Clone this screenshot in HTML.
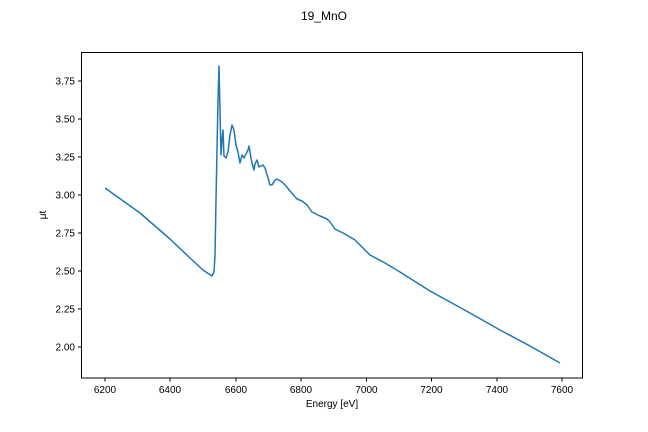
<!DOCTYPE html>
<html><head><meta charset="utf-8"><style>body{margin:0;background:#fff}svg{display:block}</style></head>
<body>
<svg width="648" height="432" xmlns="http://www.w3.org/2000/svg" font-family="Liberation Sans, DejaVu Sans, sans-serif" font-size="10">
<text x="324" y="20" text-anchor="middle" font-size="12">19_MnO</text>
<polyline fill="none" stroke="#1f77b4" stroke-width="1.5" stroke-linejoin="round" points="105,188 140,213 170,239 190,258 203,270 209,274 212,276 214,272 215,255 216,200 217,150 218,100 219,66 220,110 221,155 222,140 223,130 224,156 226,158 228,152 230,135 232,125 234,130 236,145 238,152 240,163 242,155 244,158 246,154 248,150 249,146 251,158 252,163 254,170 255,164 257,160 259,167 261,166 263,165 265,168 268,178 270,185 272,185 275,180 277,179 282,182 286,186 290,191 297,199 302,201 307,205 312,212 320,216 327,219 330,222 335,229 345,234 355,240 370,255 385,263 400,272 430,291 470,313 500,330 530,346 560,363"/>
<rect x="81.5" y="52.5" width="501" height="325.5" fill="none" stroke="#000" stroke-width="1"/>
<g stroke="#000">
<line x1="105" y1="378" x2="105" y2="381.5"/><line x1="170" y1="378" x2="170" y2="381.5"/><line x1="236" y1="378" x2="236" y2="381.5"/><line x1="301" y1="378" x2="301" y2="381.5"/><line x1="366.5" y1="378" x2="366.5" y2="381.5"/><line x1="431.5" y1="378" x2="431.5" y2="381.5"/><line x1="497" y1="378" x2="497" y2="381.5"/><line x1="562" y1="378" x2="562" y2="381.5"/>
<line x1="78" y1="347" x2="81.5" y2="347"/><line x1="78" y1="309" x2="81.5" y2="309"/><line x1="78" y1="271" x2="81.5" y2="271"/><line x1="78" y1="233" x2="81.5" y2="233"/><line x1="78" y1="195" x2="81.5" y2="195"/><line x1="78" y1="157" x2="81.5" y2="157"/><line x1="78" y1="119" x2="81.5" y2="119"/><line x1="78" y1="81" x2="81.5" y2="81"/>
</g>
<g text-anchor="middle">
<text x="105" y="393">6200</text><text x="170" y="393">6400</text><text x="236" y="393">6600</text><text x="301" y="393">6800</text><text x="366.5" y="393">7000</text><text x="431.5" y="393">7200</text><text x="497" y="393">7400</text><text x="562" y="393">7600</text>
</g>
<g text-anchor="end">
<text x="75" y="350.5">2.00</text><text x="75" y="312.5">2.25</text><text x="75" y="274.5">2.50</text><text x="75" y="236.5">2.75</text><text x="75" y="198.5">3.00</text><text x="75" y="160.5">3.25</text><text x="75" y="122.5">3.50</text><text x="75" y="84.5">3.75</text>
</g>
<text x="332" y="407" text-anchor="middle">Energy [eV]</text>
<text transform="translate(46,215) rotate(-90)" text-anchor="middle">μt</text>
</svg>
</body></html>
